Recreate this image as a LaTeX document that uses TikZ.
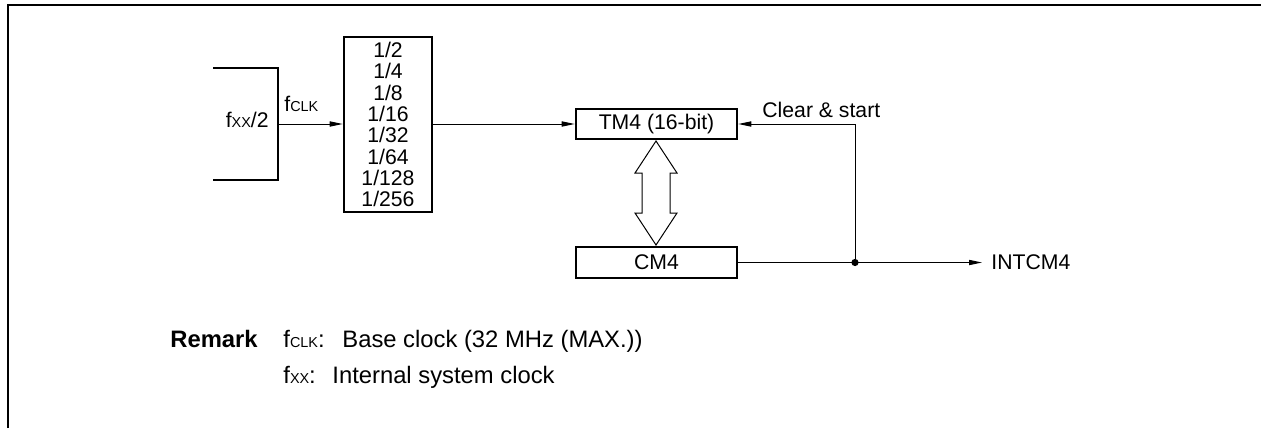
\documentclass[tikz,border=0pt]{standalone}
\usepackage{fontspec}
\setmainfont{Liberation Sans}
\usetikzlibrary{arrows.meta}
\newcommand{\sml}[1]{{\fontsize{7.2}{8}\selectfont #1}}
\newcommand{\basefnt}{\fontsize{10.6}{10.65}\selectfont}
\newcommand{\remfnt}{\fontsize{11.9}{13}\selectfont}
\begin{document}
\begin{tikzpicture}[x=0.5pt,y=-0.5pt,font=\basefnt,
  box/.style={draw,line width=1.3pt,inner sep=0pt,align=center},
  conn/.style={line width=0.5pt},
  arr/.style={conn,-{Triangle[length=6.5pt,width=2.6pt]}},
  txt/.style={inner sep=0pt}]
\useasboundingbox (0,0) rectangle (1261,428);
% frame
\draw[line width=1pt] (8,428) -- (8,5) -- (1261,5);
% source bracket
\draw[line width=1.3pt] (213,68) -- (278,68) -- (278,180) -- (213,180);
\coordinate (src) at (278,124);
\node[txt,anchor=base east] (fxx) at (269,127) {f\sml{XX}/2};
\node[txt,anchor=base west] (fclk) at (284,111) {f\sml{CLK}};
% divider
\node[box,minimum width=44pt,minimum height=87.5pt] (div) at (388,124.5)
  {1/2\\1/4\\1/8\\1/16\\1/32\\1/64\\1/128\\1/256};
% timer and compare registers
\node[box,minimum width=80.5pt,minimum height=15pt] (tm) at (656.5,124) {TM4 (16-bit)};
\node[box,minimum width=80.5pt,minimum height=15.5pt] (cm) at (656.5,262.5) {CM4};
\node[txt,anchor=base west] (cs) at (762,117) {Clear \& start};
\node[txt,anchor=west] (int) at (991,262.5) {INTCM4};
\coordinate (dot) at (855,262.5);
% connectors
\draw[arr] (src) -- (src -| div.west);
\draw[arr] (div.east |- tm) -- (tm.west);
\draw[conn] (cm.east) -- (dot);
\draw[arr,shorten >=4.5pt] (dot) -- (int.west);
\draw[arr] (dot) -- (dot |- tm.east) -- (tm.east);
\fill (dot) circle (1.8pt);
% hollow double arrow
\draw[line width=0.5pt] (656,141) -- (677,173) -- (670,173) -- (670,213) -- (677,213)
  -- (656,245) -- (635,213) -- (642,213) -- (642,173) -- (635,173) -- cycle;
% remark
\node[txt,anchor=base west,font=\remfnt\bfseries] (rem) at (170,347) {Remark};
\node[txt,anchor=base west,font=\remfnt] (r1a) at (283,347) {f\sml{CLK}:};
\node[txt,anchor=base west,font=\remfnt] (r1b) at (342,347) {Base clock (32 MHz (MAX.))};
\node[txt,anchor=base west,font=\remfnt] (r2a) at (283,383) {f\sml{XX}:};
\node[txt,anchor=base west,font=\remfnt] (r2b) at (332,383) {Internal system clock};
\end{tikzpicture}
\end{document}
